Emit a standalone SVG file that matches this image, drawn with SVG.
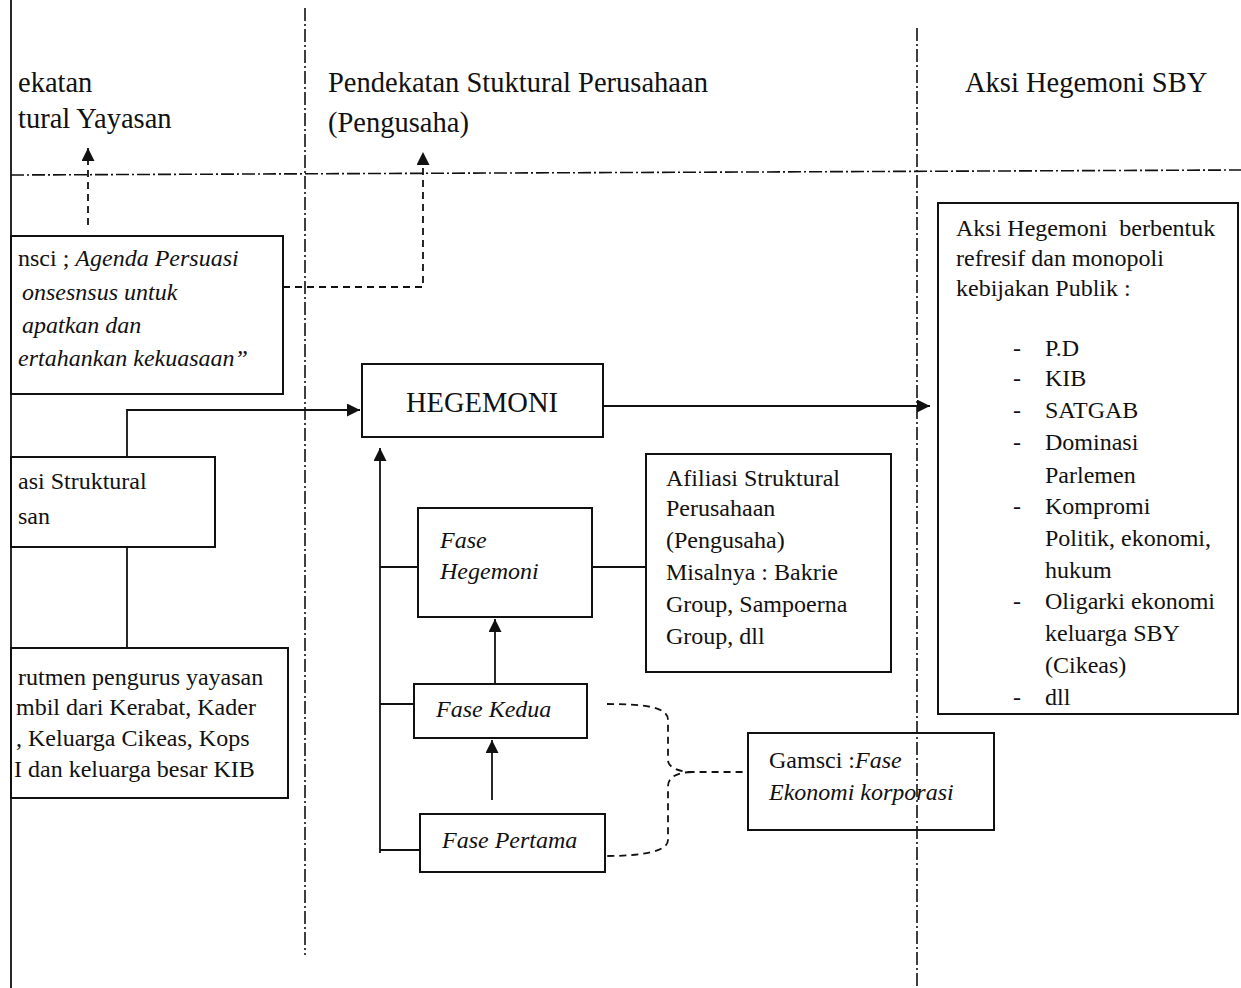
<svg xmlns="http://www.w3.org/2000/svg" width="1241" height="988" viewBox="0 0 1241 988">
<defs>
<style>
.t{font-family:"Liberation Serif","Times New Roman",serif;font-size:24px;fill:#111}
.h{font-family:"Liberation Serif","Times New Roman",serif;font-size:28.5px;fill:#111}
.i{font-style:italic}
.box{fill:none;stroke:#111;stroke-width:2}
.ln{fill:none;stroke:#111;stroke-width:1.8}
.dash{fill:none;stroke:#111;stroke-width:1.8;stroke-dasharray:7 5}
.dd{fill:none;stroke:#111;stroke-width:1.6;stroke-dasharray:13 3 2 3}
</style>
<marker id="ah" viewBox="0 0 10 10" refX="10" refY="5" markerWidth="13" markerHeight="13" markerUnits="userSpaceOnUse" orient="auto">
<path d="M0,0 L10,5 L0,10 z" fill="#111"/>
</marker>
</defs>
<rect width="1241" height="988" fill="#fff"/>

<g id="headers">
<text class="h" x="18" y="92">ekatan</text>
<text class="h" x="18" y="128">tural Yayasan</text>
<text class="h" x="328" y="92">Pendekatan Stuktural Perusahaan</text>
<text class="h" x="328" y="132">(Pengusaha)</text>
<text class="h" x="965" y="92">Aksi Hegemoni SBY</text>
</g>

<g id="node-gramsci">
<rect class="box" x="11" y="236" width="272" height="158"/>
<text class="t" x="18" y="266">nsci ; <tspan class="i">Agenda Persuasi</tspan></text>
<text class="t i" x="22" y="300">onsesnsus untuk</text>
<text class="t i" x="22" y="333">apatkan dan</text>
<text class="t i" x="18" y="366">ertahankan kekuasaan”</text>
</g>

<g id="node-afiliasi-yayasan">
<rect class="box" x="11" y="457" width="204" height="90"/>
<text class="t" x="18" y="489">asi Struktural</text>
<text class="t" x="18" y="524">san</text>
</g>

<g id="node-rekrutmen">
<rect class="box" x="11" y="648" width="277" height="150"/>
<text class="t" x="18" y="685">rutmen pengurus yayasan</text>
<text class="t" x="16" y="715">mbil dari Kerabat, Kader</text>
<text class="t" x="16" y="746">, Keluarga Cikeas, Kops</text>
<text class="t" x="14" y="777">I dan keluarga besar KIB</text>
</g>

<g id="node-hegemoni">
<rect class="box" x="362" y="364" width="241" height="73"/>
<text class="h" x="482" y="412" text-anchor="middle">HEGEMONI</text>
</g>

<g id="node-fase-hegemoni">
<rect class="box" x="418" y="508" width="174" height="109"/>
<text class="t i" x="440" y="548">Fase</text>
<text class="t i" x="440" y="579">Hegemoni</text>
</g>

<g id="node-fase-kedua">
<rect class="box" x="414" y="684" width="173" height="54"/>
<text class="t i" x="436" y="717">Fase Kedua</text>
</g>

<g id="node-fase-pertama">
<rect class="box" x="420" y="814" width="185" height="58"/>
<text class="t i" x="442" y="848">Fase Pertama</text>
</g>

<g id="node-afiliasi-perusahaan">
<rect class="box" x="646" y="454" width="245" height="218"/>
<text class="t" x="666" y="486">Afiliasi Struktural</text>
<text class="t" x="666" y="516">Perusahaan</text>
<text class="t" x="666" y="548">(Pengusaha)</text>
<text class="t" x="666" y="580">Misalnya : Bakrie</text>
<text class="t" x="666" y="612">Group, Sampoerna</text>
<text class="t" x="666" y="644">Group, dll</text>
</g>

<g id="node-gamsci-fase">
<rect class="box" x="748" y="733" width="246" height="97"/>
<text class="t" x="769" y="768">Gamsci :<tspan class="i">Fase</tspan></text>
<text class="t i" x="769" y="800">Ekonomi korporasi</text>
</g>

<g id="node-aksi">
<rect class="box" x="938" y="203" width="300" height="511"/>
<text class="t" x="956" y="236">Aksi Hegemoni &#160;berbentuk</text>
<text class="t" x="956" y="266">refresif dan monopoli</text>
<text class="t" x="956" y="296">kebijakan Publik :</text>
<g class="t">
<text x="1013" y="356">-</text><text x="1045" y="356">P.D</text>
<text x="1013" y="386">-</text><text x="1045" y="386">KIB</text>
<text x="1013" y="418">-</text><text x="1045" y="418">SATGAB</text>
<text x="1013" y="450">-</text><text x="1045" y="450">Dominasi</text>
<text x="1045" y="483">Parlemen</text>
<text x="1013" y="514">-</text><text x="1045" y="514">Kompromi</text>
<text x="1045" y="546">Politik, ekonomi,</text>
<text x="1045" y="578">hukum</text>
<text x="1013" y="609">-</text><text x="1045" y="609">Oligarki ekonomi</text>
<text x="1045" y="641">keluarga SBY</text>
<text x="1045" y="673">(Cikeas)</text>
<text x="1013" y="705">-</text><text x="1045" y="705">dll</text>
</g>
</g>

<g id="connectors">
<line class="ln" x1="11" y1="0" x2="11" y2="988"/>
<line class="dd" x1="305" y1="8" x2="305" y2="955"/>
<line class="dd" x1="917" y1="28" x2="917" y2="988"/>
<line class="dd" x1="11" y1="175" x2="1241" y2="170"/>
<path class="dash" d="M88,225 V148" marker-end="url(#ah)"/>
<path class="dash" d="M283,287 H423 V152" marker-end="url(#ah)"/>
<path class="ln" d="M127,457 V410 H360" marker-end="url(#ah)"/>
<line class="ln" x1="127" y1="547" x2="127" y2="648"/>
<path class="ln" d="M603,406 H930" marker-end="url(#ah)"/>
<path class="ln" d="M380,853 V448" marker-end="url(#ah)"/>
<line class="ln" x1="380" y1="567" x2="418" y2="567"/>
<line class="ln" x1="380" y1="704" x2="414" y2="704"/>
<line class="ln" x1="380" y1="850" x2="420" y2="850"/>
<path class="ln" d="M495,684 V619" marker-end="url(#ah)"/>
<path class="ln" d="M492,800 V740" marker-end="url(#ah)"/>
<line class="ln" x1="592" y1="567" x2="646" y2="567"/>
<path class="dash" d="M607,704 C640,704 668,706 668,720 V760 C668,768 680,772 692,772 H748"/>
<path class="dash" d="M692,772 C680,772 668,776 668,786 V840 C668,852 640,856 607,856"/>
</g>
</svg>
